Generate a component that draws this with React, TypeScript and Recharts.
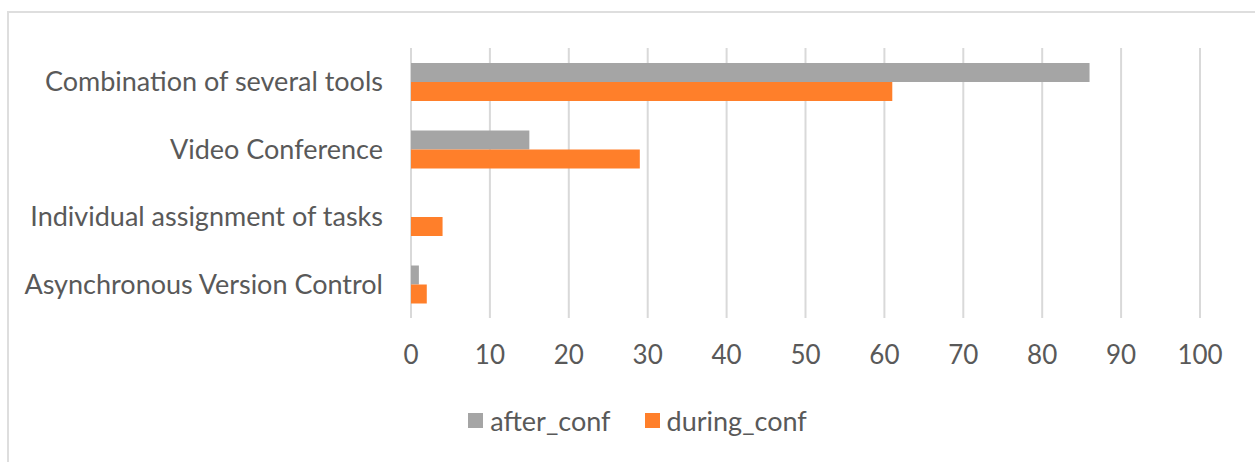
import { BarChart, Bar, XAxis, YAxis, CartesianGrid, Legend } from 'recharts';

const categories = [
  'Combination of several tools',
  'Video Conference',
  'Individual assignment of tasks',
  'Asynchronous Version Control',
];
const afterConf = [86, 15, 0, 1];
const duringConf = [61, 29, 4, 2];
const xTicks = [0, 10, 20, 30, 40, 50, 60, 70, 80, 90, 100];

const data = categories.map((name, i) => ({
  name,
  after_conf: afterConf[i],
  during_conf: duringConf[i],
}));

const FONT = 'Lato, "Open Sans", sans-serif';
const TEXT = '#595959';

function LegendContent({ payload }: any) {
  return (
    <div
      style={{
        height: 84,
        display: 'flex',
        alignItems: 'center',
        justifyContent: 'center',
        paddingLeft: 20,
        fontFamily: FONT,
        fontSize: 27,
        color: TEXT,
      }}
    >
      {(payload || []).map((p: any, i: number) => (
        <div key={p.value} style={{ display: 'flex', alignItems: 'center', marginLeft: i ? 34 : 0 }}>
          <span style={{ width: 15, height: 15, background: p.color, display: 'inline-block', marginRight: 7 }} />
          <span>{p.value}</span>
        </div>
      ))}
    </div>
  );
}

export default function App() {
  return (
    <div style={{ position: 'absolute', left: 0, top: 0, width: 1255, height: 462, background: '#fff', overflow: 'hidden' }}>
      {/* chart frame, only top and left edges are visible */}
      <div
        style={{
          position: 'absolute',
          left: 7,
          top: 11,
          width: 1260,
          height: 470,
          border: '2px solid #dedede',
          boxSizing: 'border-box',
        }}
      />
      <BarChart
        width={1255}
        height={462}
        data={data}
        layout="vertical"
        margin={{ top: 48, right: 55, left: 0, bottom: 0 }}
        barSize={19}
        barGap={0}
        style={{ position: 'absolute', left: 0, top: 0 }}
      >
        <CartesianGrid horizontal={false} stroke="#d9d9d9" strokeWidth={2} />
        <XAxis
          type="number"
          domain={[0, 100]}
          ticks={xTicks}
          axisLine={false}
          tickLine={false}
          tickSize={0}
          tickMargin={28}
          height={60}
          interval={0}
          tick={{ fill: TEXT, fontSize: 26, fontFamily: FONT }}
        />
        <YAxis
          type="category"
          dataKey="name"
          width={411}
          axisLine={false}
          tickLine={false}
          tickSize={0}
          tickMargin={28}
          interval={0}
          tick={{ fill: TEXT, fontSize: 27, fontFamily: FONT }}
        />
        <Legend
          verticalAlign="bottom"
          height={84}
          wrapperStyle={{ left: 0, width: 1255, height: 84 }}
          content={<LegendContent />}
        />
        <Bar dataKey="after_conf" fill="#A5A5A5" isAnimationActive={false} />
        <Bar dataKey="during_conf" fill="#FF7F2A" isAnimationActive={false} />
      </BarChart>
    </div>
  );
}
